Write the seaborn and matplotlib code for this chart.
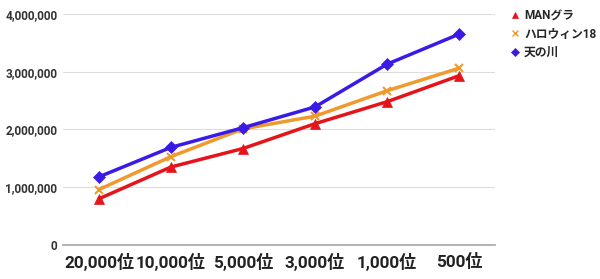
import matplotlib
matplotlib.use("Agg")
import matplotlib.pyplot as plt
import seaborn as sns
import pandas as pd
from matplotlib.ticker import FuncFormatter
from matplotlib.lines import Line2D

categories = ["20,000位", "10,000位", "5,000位", "3,000位", "1,000位", "500位"]
series_names = ["MANグラ", "ハロウィン18", "天の川"]
man_gura = [800000, 1350000, 1670000, 2100000, 2480000, 2930000]
halloween18 = [960000, 1530000, 2010000, 2230000, 2670000, 3060000]
amanogawa = [1180000, 1690000, 2030000, 2390000, 3130000, 3650000]
y_ticks = [0, 1000000, 2000000, 3000000, 4000000]

rows = []
for name, vals in zip(series_names, [man_gura, halloween18, amanogawa]):
    for i, (c, v) in enumerate(zip(categories, vals)):
        rows.append({"rank": c, "x": i, "value": v, "series": name})
df = pd.DataFrame(rows)

sns.set_theme(style="white")
plt.rcParams['font.family'] = ['Roboto', 'Noto Sans CJK JP', 'DejaVu Sans']

fig = plt.figure(figsize=(6, 2.79), dpi=100)
ax = fig.add_axes([0.105, 0.122, 0.72, 0.828])

palette = {"MANグラ": "#e5141b", "ハロウィン18": "#f09a2e", "天の川": "#3a1be6"}
markers = {"MANグラ": "^", "ハロウィン18": "x", "天の川": "D"}
sizes = {"MANグラ": 7, "ハロウィン18": 6, "天の川": 6.5}

for name in series_names:
    sub = df[df.series == name]
    sns.lineplot(data=sub, x="x", y="value", ax=ax, color=palette[name],
                 linewidth=2.5, marker=markers[name], markersize=sizes[name],
                 markeredgecolor=palette[name], markeredgewidth=1.5 if name == "ハロウィン18" else 0.5,
                 label=name, legend=False)

ax.set_xlim(-0.5, 5.5)
ax.set_ylim(0, 4000000)
ax.set_yticks(y_ticks)
ax.yaxis.set_major_formatter(FuncFormatter(lambda v, p: f"{int(v):,}"))
ax.set_xticks(range(len(categories)))
ax.set_xticklabels(categories, fontsize=12.3, fontweight="bold", color="#222222")
for t in ax.get_yticklabels():
    t.set_fontsize(8.5)
    t.set_fontweight("bold")
    t.set_color("#333333")
ax.grid(axis="y", color="#dddddd", linewidth=0.8)
ax.set_xlabel("")
ax.set_ylabel("")
for s in ["top", "right", "left"]:
    ax.spines[s].set_visible(False)
ax.spines["bottom"].set_color("#aaaaaa")
ax.tick_params(axis="both", length=0, pad=4)
ax.tick_params(axis="x", pad=6)

handles = []
for name in series_names:
    handles.append(Line2D([], [], linestyle="none", marker=markers[name], color=palette[name],
                          markersize=4, markeredgewidth=1 if name == "ハロウィン18" else 0.5))
leg = fig.legend(handles, series_names, loc="upper left", bbox_to_anchor=(0.83, 1.005),
                 frameon=False, prop={"size": 8.5, "weight": "bold"},
                 handletextpad=0.3, labelspacing=0.45, handlelength=1)

fig.savefig("out.png", dpi=100)
